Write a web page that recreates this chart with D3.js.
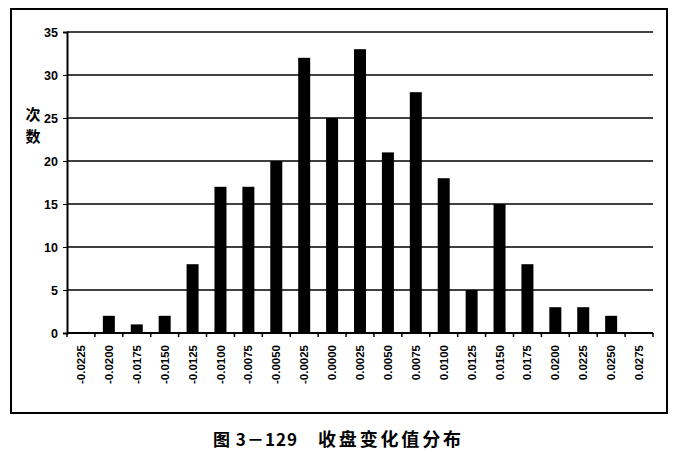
<!DOCTYPE html>
<html lang="zh">
<head>
<meta charset="UTF-8">
<title>收盘变化值分布</title>
<script src="https://d3js.org/d3.v7.min.js"></script>
<style>
    body { margin: 0; background: #fff; }
    svg { display: block; font-family: "Liberation Sans", Arial, sans-serif; }
    .axis text { font-weight: bold; fill: #000; }
    .grid line { stroke: #000; stroke-width: 1.5px; }
    .cjk { font-family: "Noto Sans CJK SC", sans-serif; font-weight: bold; }
</style>
</head>
<body>
<svg width="678" height="452"></svg>
<script>
// category labels and counts
const categories = ["-0.0225", "-0.0200", "-0.0175", "-0.0150", "-0.0125", "-0.0100", "-0.0075",
    "-0.0050", "-0.0025", "0.0000", "0.0025", "0.0050", "0.0075", "0.0100", "0.0125",
    "0.0150", "0.0175", "0.0200", "0.0225", "0.0250", "0.0275"];
const counts = [0, 2, 1, 2, 8, 17, 17, 20, 32, 25, 33, 21, 28, 18, 5, 15, 8, 3, 3, 2, 0];
const yTicks = [0, 5, 10, 15, 20, 25, 30, 35];
const yTitle = ["次", "数"];

const svg = d3.select("svg"),
    margin = {top: 32, right: 25, bottom: 119, left: 67},
    width = +svg.attr("width") - margin.left - margin.right,
    height = +svg.attr("height") - margin.top - margin.bottom;

// outer frame
svg.append("rect")
    .attr("x", 11).attr("y", 9)
    .attr("width", 656).attr("height", 404)
    .attr("fill", "none").attr("stroke", "#000").attr("stroke-width", 2);

const g = svg.append("g").attr("transform", `translate(${margin.left},${margin.top})`);

const x = d3.scaleBand().domain(categories).range([0, width]).paddingInner(0.57).paddingOuter(0.285);
const y = d3.scaleLinear().domain([0, 35]).range([height, 0]);

// horizontal grid lines
g.append("g")
    .attr("class", "grid")
    .selectAll("line")
    .data(yTicks.filter(d => d > 0))
    .join("line")
    .attr("x1", 0).attr("x2", width)
    .attr("y1", d => y(d)).attr("y2", d => y(d));

// bars
g.selectAll(".bar")
    .data(categories)
    .join("rect")
    .attr("class", "bar")
    .attr("x", d => x(d))
    .attr("width", x.bandwidth())
    .attr("y", (d, i) => y(counts[i]))
    .attr("height", (d, i) => height - y(counts[i]))
    .attr("fill", "#000");

// y axis
const yAxis = g.append("g")
    .attr("class", "axis")
    .call(d3.axisLeft(y).tickValues(yTicks).tickSize(4).tickPadding(5));
yAxis.select(".domain").attr("stroke-width", 2);
yAxis.selectAll("text").style("font-size", "12.5px");

// x axis, ticks between categories
const bandStep = width / categories.length;
const xAxis = g.append("g")
    .attr("class", "axis")
    .attr("transform", `translate(0,${height})`);
xAxis.append("line")
    .attr("x1", 0).attr("x2", width)
    .attr("stroke", "#000").attr("stroke-width", 2);
xAxis.selectAll(".tick-mark")
    .data(d3.range(categories.length + 1))
    .join("line")
    .attr("class", "tick-mark")
    .attr("x1", d => d * bandStep).attr("x2", d => d * bandStep)
    .attr("y1", 0).attr("y2", 4)
    .attr("stroke", "#000").attr("stroke-width", 1.5);
xAxis.selectAll(".label")
    .data(categories)
    .join("text")
    .attr("class", "label")
    .attr("transform", d => `translate(${x(d) + x.bandwidth() / 2},12) rotate(-90)`)
    .attr("text-anchor", "end")
    .attr("dy", "0.35em")
    .style("font-size", "11.5px")
    .text(d => d);

// y title, one character per line
svg.selectAll(".ytitle")
    .data(yTitle)
    .join("text")
    .attr("class", "ytitle cjk")
    .attr("text-anchor", "middle")
    .attr("x", 33)
    .attr("y", (d, i) => 120 + i * 22)
    .style("font-size", "15px")
    .text(d => d);

// caption
svg.append("text")
    .attr("class", "cjk")
    .attr("x", 213).attr("y", 446)
    .attr("textLength", 84).attr("lengthAdjust", "spacing")
    .style("font-size", "17px")
    .text("图 3－129");
svg.append("text")
    .attr("class", "cjk")
    .attr("x", 318).attr("y", 446)
    .attr("textLength", 143).attr("lengthAdjust", "spacing")
    .style("font-size", "18px")
    .text("收盘变化值分布");
</script>
</body>
</html>
